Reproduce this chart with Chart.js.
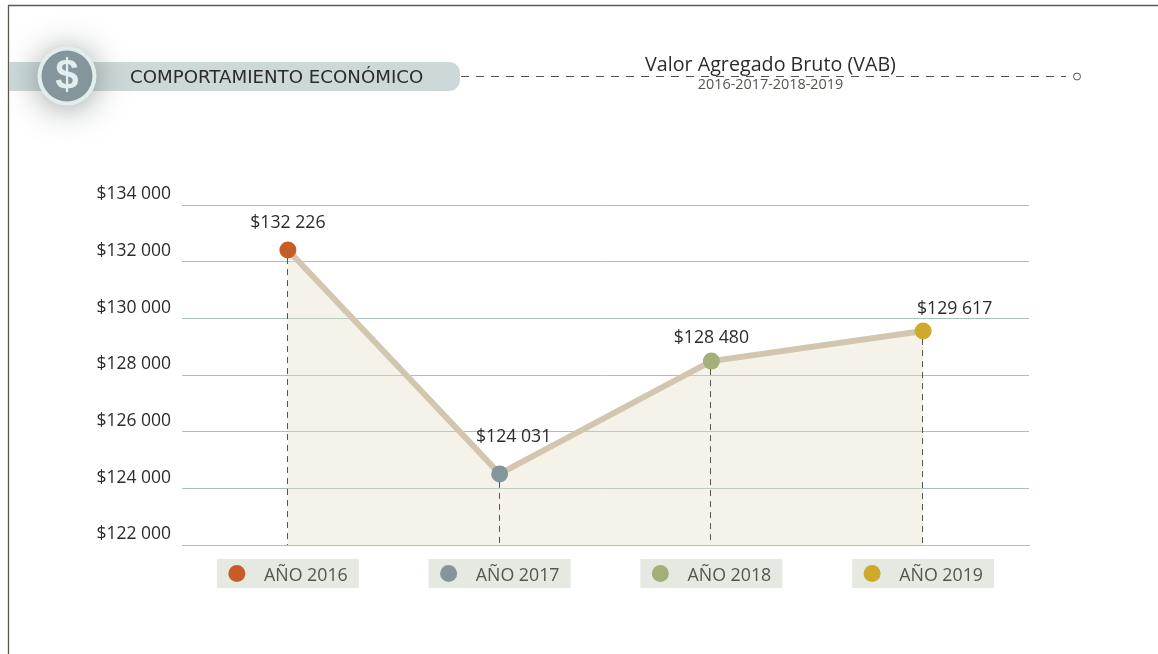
<!DOCTYPE html>
<html lang="es"><head><meta charset="utf-8">
<style>html,body{margin:0;padding:0;background:#fff;overflow:hidden}#w{position:relative;width:1158px;height:654px}canvas{display:block}</style>
<script src="https://cdn.jsdelivr.net/npm/chart.js@4"></script></head>
<body><div id="w"><canvas id="c" width="1158" height="654"></canvas></div>
<script>
// Data
const categories = ['AÑO 2016','AÑO 2017','AÑO 2018','AÑO 2019'];
// Height of each point as read against the drawn axis
const plottedValues = [132410, 124510, 128490, 129550];
// Values as printed next to the points
const printedLabels = ['$132 226','$124 031','$128 480','$129 617'];
const tickValues = [122000,124000,126000,128000,130000,132000,134000];
const pointColors = ['#c65d27','#84959b','#a3b07a','#cfa92c'];
const titleText = 'Valor Agregado Bruto (VAB)';
const subtitleText = '2016-2017-2018-2019';
const bannerText = 'COMPORTAMIENTO ECONÓMICO';

const FONT = '"Open Sans", sans-serif';
const labelNudge = [[0,-27],[14,-37],[0,-23],[31.5,-22]];

function fmtTick(v){ const s=String(v); return '$'+s.slice(0,-3)+' '+s.slice(-3); }

const decor = {
  id:'decor',
  beforeDraw(chart){
    const c=chart.ctx; c.save();
    c.fillStyle='#fff'; c.fillRect(0,0,1158,654);
    // frame
    c.strokeStyle='#5a5a50'; c.lineWidth=1.3;
    c.beginPath(); c.moveTo(8.5,654); c.lineTo(8.5,5.5); c.lineTo(1158,5.5); c.stroke();
    // banner
    c.fillStyle='#cdd9d9';
    c.beginPath(); c.roundRect(9,62,451,29,[0,11,11,0]); c.fill();
    // icon
    c.save(); c.shadowColor='rgba(60,70,70,.5)'; c.shadowBlur=32; c.shadowOffsetY=3;
    c.fillStyle='#e2eeee'; c.beginPath(); c.arc(67,76,29.5,0,Math.PI*2); c.fill(); c.restore();
    c.fillStyle='#84959b'; c.beginPath(); c.arc(67,76,25.5,0,Math.PI*2); c.fill();
    c.fillStyle='#e2eeee'; c.font='bold 42px "Liberation Sans", sans-serif'; c.textAlign='center'; c.textBaseline='middle';
    c.fillText('$',67,77);
    c.fillStyle='#2b2b2b'; c.font='18.2px "DejaVu Sans", sans-serif'; c.textAlign='left';
    c.fillText(bannerText,130,78);
    // dashed rule
    c.strokeStyle='#55554f'; c.lineWidth=1; c.setLineDash([8,7]);
    c.beginPath(); c.moveTo(461,76.5); c.lineTo(1066,76.5); c.stroke(); c.setLineDash([]);
    c.beginPath(); c.arc(1077,76.5,3.5,0,Math.PI*2); c.stroke();
    c.fillStyle='#2b2b2b'; c.textAlign='center'; c.font='19.7px '+FONT;
    c.fillText(titleText,770.5,65);
    c.fillStyle='#55554f'; c.font='14.4px '+FONT;
    c.fillText(subtitleText,770.5,85);
    // legend chips behind tick text
    const xs=chart.scales.x;
    categories.forEach((_,i)=>{
      const x=xs.getPixelForTick(i);
      c.fillStyle='#e6e9e2'; c.fillRect(x-71,559,142,29);
      c.fillStyle=pointColors[i]; c.beginPath(); c.arc(x-51,573.5,8.5,0,Math.PI*2); c.fill();
    });
    c.restore();
  },
  afterDatasetsDraw(chart){
    const c=chart.ctx, meta=chart.getDatasetMeta(0), bottom=chart.scales.y.bottom;
    c.save(); c.strokeStyle='#55554f'; c.lineWidth=1; c.setLineDash([6,5]);
    meta.data.forEach(p=>{ const x=Math.floor(p.x-.5)+.5; c.beginPath(); c.moveTo(x,p.y+8); c.lineTo(x,bottom); c.stroke(); });
    c.setLineDash([]);
    c.fillStyle='#2b2b2b'; c.font='17.7px '+FONT; c.textAlign='center'; c.textBaseline='middle';
    meta.data.forEach((p,i)=>c.fillText(printedLabels[i],p.x+labelNudge[i][0],p.y+labelNudge[i][1]));
    c.restore();
  }
};

new Chart(document.getElementById('c'),{
  type:'line',
  data:{labels:categories,datasets:[{
    data:plottedValues,
    borderColor:'#d3c6af',borderWidth:6,tension:0,
    fill:'origin',backgroundColor:'rgba(226,218,196,.36)',
    pointRadius:8.5,pointBorderWidth:0,pointBackgroundColor:pointColors,pointHoverRadius:8.5
  }]},
  options:{
    responsive:false,animation:false,
    layout:{padding:{left:0,right:129,top:205,bottom:0}},
    plugins:{legend:{display:false},tooltip:{enabled:false}},
    scales:{
      x:{offset:true,
        afterFit(s){s.height=109;},
        grid:{display:false},border:{color:'#a9c0bd',width:1},
        ticks:{color:'#55554f',font:{family:FONT,size:17.8},padding:12,labelOffset:18,maxRotation:0}},
      y:{min:122000,max:134000,
        afterBuildTicks(s){s.ticks=tickValues.map(v=>({value:v}));},
        afterFit(s){s.width=182;},
        grid:{color:'#a9c0bd',lineWidth:1,drawTicks:false},border:{display:false},
        ticks:{color:'#2b2b2b',font:{family:FONT,size:17.5},padding:11,labelOffset:-10.8,callback:fmtTick}}
    }
  },
  plugins:[decor]
});
</script></body></html>
